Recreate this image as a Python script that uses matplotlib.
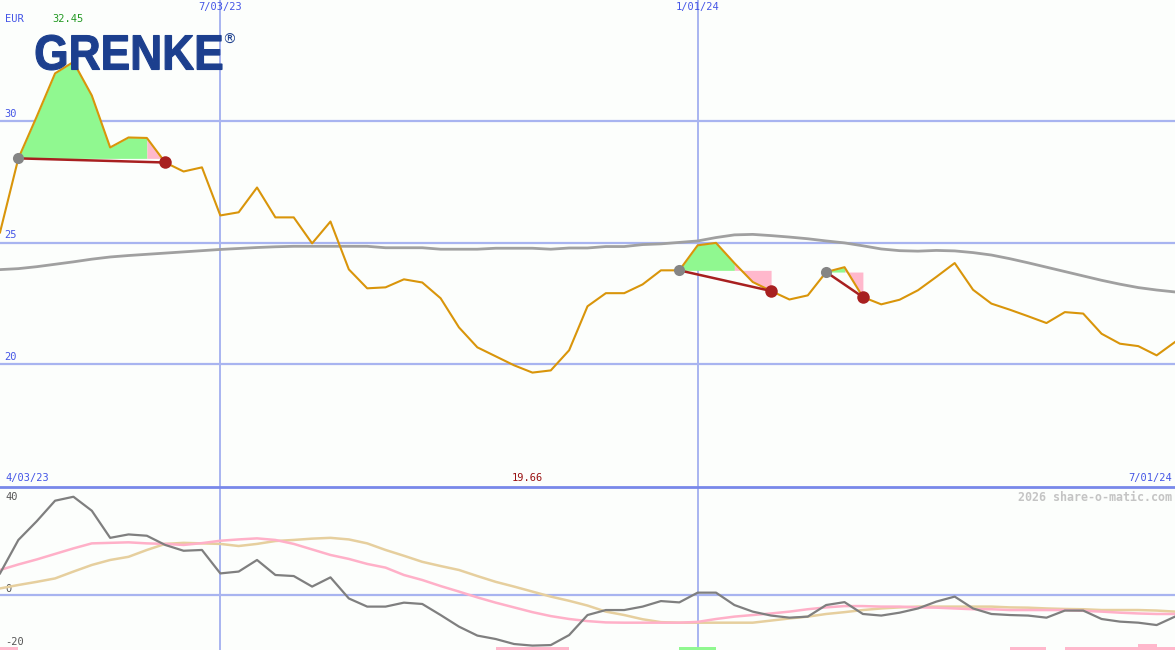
import matplotlib
matplotlib.use('Agg')
import matplotlib.pyplot as plt
import numpy as np
from matplotlib.textpath import TextPath
from matplotlib.font_manager import FontProperties
from matplotlib.patches import PathPatch
from matplotlib.transforms import Affine2D, IdentityTransform

# ---------------- data ----------------
date_labels_top = ["7/03/23", "1/01/24"]
date_idx_top = [12, 38]
start_label = "4/03/23"
end_label = "7/01/24"
currency = "EUR"
max_label = "32.45"
min_label = "19.66"

price = [25.43, 28.48, 30.20, 31.98, 32.45, 31.07, 28.93, 29.34, 29.32, 28.31,
         27.94, 28.11, 26.13, 26.26, 27.28, 26.05, 26.05, 24.98, 25.88, 23.91,
         23.13, 23.17, 23.50, 23.37, 22.72, 21.52, 20.70, 20.33, 19.96, 19.66,
         19.75, 20.58, 22.39, 22.93, 22.93, 23.29, 23.87, 23.87, 24.90, 25.00,
         24.17, 23.39, 23.02, 22.67, 22.84, 23.80, 24.00, 22.77, 22.47, 22.66,
         23.05, 23.60, 24.17, 23.07, 22.50, 22.25, 21.98, 21.70, 22.15, 22.09,
         21.26, 20.85, 20.75, 20.37, 20.92]

ma_long = [23.90, 23.94, 24.02, 24.12, 24.22, 24.33, 24.42, 24.48, 24.53, 24.58,
           24.63, 24.68, 24.73, 24.77, 24.81, 24.84, 24.86, 24.86, 24.86, 24.86,
           24.86, 24.80, 24.80, 24.80, 24.74, 24.74, 24.74, 24.78, 24.78, 24.78,
           24.74, 24.79, 24.79, 24.85, 24.85, 24.93, 24.96, 25.02, 25.08, 25.22,
           25.33, 25.35, 25.30, 25.24, 25.17, 25.08, 25.00, 24.88, 24.75, 24.68,
           24.66, 24.69, 24.67, 24.60, 24.50, 24.35, 24.18, 24.00, 23.82, 23.64,
           23.46, 23.30, 23.16, 23.06, 22.98]

osc_dark = [8.2, 20.9, 28.0, 35.8, 37.3, 32.0, 21.7, 23.0, 22.5, 19.0,
            16.8, 17.1, 8.2, 8.9, 13.3, 7.6, 7.2, 3.2, 6.7, -1.3,
            -4.4, -4.4, -2.9, -3.4, -7.6, -12.0, -15.4, -16.7, -18.6, -19.2,
            -19.0, -15.2, -7.6, -5.7, -5.7, -4.4, -2.3, -2.8, 0.9, 0.9,
            -3.8, -6.3, -7.8, -8.6, -8.2, -3.8, -2.7, -7.2, -7.8, -6.7,
            -5.1, -2.5, -0.6, -5.1, -7.2, -7.6, -7.8, -8.6, -5.9, -5.9,
            -9.1, -10.1, -10.5, -11.4, -8.2]

osc_pink = [9.5, 11.6, 13.5, 15.6, 17.7, 19.6, 19.8, 20.0, 19.6, 19.4,
            19.0, 19.7, 20.6, 21.1, 21.5, 20.9, 19.4, 17.3, 15.2, 13.7,
            11.8, 10.4, 7.6, 5.7, 3.4, 1.3, -0.9, -2.9, -4.7, -6.5,
            -8.0, -9.1, -9.9, -10.4, -10.5, -10.5, -10.5, -10.5, -10.2, -9.1,
            -8.2, -7.6, -7.0, -6.3, -5.4, -4.7, -4.2, -4.2, -4.4, -4.4,
            -4.7, -4.8, -5.1, -5.4, -5.4, -5.7, -5.7, -5.7, -5.7, -6.0,
            -6.3, -6.7, -7.0, -7.2, -7.2]

osc_tan = [2.5, 3.8, 5.0, 6.3, 8.9, 11.4, 13.3, 14.5, 17.1, 19.4,
           19.8, 19.6, 19.4, 18.6, 19.4, 20.5, 20.9, 21.4, 21.7, 21.1,
           19.6, 17.1, 14.9, 12.6, 11.0, 9.5, 7.2, 5.0, 3.2, 1.3,
           -0.6, -2.2, -4.0, -6.3, -7.6, -9.2, -10.3, -10.5, -10.5, -10.5,
           -10.5, -10.5, -9.7, -8.9, -8.2, -7.2, -6.5, -5.7, -5.1, -4.7,
           -4.4, -4.4, -4.4, -4.4, -4.4, -4.7, -4.8, -5.1, -5.3, -5.4,
           -5.7, -5.7, -5.7, -5.9, -6.3]

# trades: entry index, switch-to-pink index, exit index
trade_entry = [1, 37, 45]
trade_switch = [8, 40, 46]
trade_exit = [9, 42, 47]

# signal bars at the bottom of the oscillator panel
bar_idx = [0, 27, 28, 29, 30, 37, 38, 55, 56, 58, 59, 60, 61, 62, 63]
bar_top = [-19.9, -19.9, -19.9, -19.9, -19.9, -19.9, -19.9, -19.9, -19.9,
           -19.9, -19.9, -19.9, -19.9, -18.6, -19.9]
bar_kind = ["neg", "neg", "neg", "neg", "neg", "pos", "pos", "neg", "neg",
            "neg", "neg", "neg", "neg", "neg", "neg"]

top_grid = [30, 25, 20]
bot_grid = [0]
bot_labels = [40, 0, -20]

# ---------------- style ----------------
W, H = 1175, 650
BG = '#fcfefc'
GRID = '#a8b4f0'
SEP = '#7888ea'
BLUE_TXT = '#4455e6'
ORANGE = '#d9950a'
GRAYMA = '#a0a0a0'
GREEN_F = '#90f890'
PINK_F = '#ffb8cc'
REDL = '#a82020'
DOTGRAY = '#858585'
DOTRED = '#a82020'
MONO = 'DejaVu Sans Mono'
FS = 7.5

fig = plt.figure(figsize=(W / 100, H / 100), dpi=100, facecolor=BG)
split = 1 - 487 / H
ax = fig.add_axes([0, split, 1, 1 - split])
axb = fig.add_axes([0, 0, 1, split])
for a in (ax, axb):
    a.set_facecolor(BG)
    a.set_axis_off()
    a.set_xlim(0, len(price) - 1)

x = np.arange(len(price))
p = np.array(price)

# ---- top panel ----
ax.set_ylim(14.95, 35.0)
for g in top_grid:
    ax.axhline(g, color=GRID, lw=1.6, zorder=1)
    ax.text(0.004, g + 0.1, str(g), transform=ax.get_yaxis_transform(), color=BLUE_TXT,
            fontsize=FS, family=MONO, va='bottom', ha='left')
for i in date_idx_top:
    ax.axvline(i, color=GRID, lw=1.4, zorder=1)
    axb.axvline(i, color=GRID, lw=1.4, zorder=1)

ax.plot(x, ma_long, color=GRAYMA, lw=2.0, zorder=2)

for e, s, xo in zip(trade_entry, trade_switch, trade_exit):
    lvl = price[e]
    xs = x[e:s + 1]
    ax.fill_between(xs, lvl, p[e:s + 1], color=GREEN_F, lw=0, zorder=3, interpolate=True)
    xs2 = x[s:xo + 1]
    ax.fill_between(xs2, lvl, p[s:xo + 1], color=PINK_F, lw=0, zorder=3, interpolate=True)

ax.plot(x, price, color=ORANGE, lw=1.5, zorder=4)

for e, xo in zip(trade_entry, trade_exit):
    ax.plot([e, xo], [price[e], price[xo]], color=REDL, lw=1.8, zorder=5)
    ax.plot([e], [price[e]], 'o', ms=8, color=DOTGRAY, mec='none', zorder=6)
    ax.plot([xo], [price[xo]], 'o', ms=9, color=DOTRED, mec='none', zorder=6)

# labels in top panel
for lab, i in zip(date_labels_top, date_idx_top):
    ax.text(i, 1 - 2 / 487, lab, transform=ax.get_xaxis_transform(), color=BLUE_TXT,
            fontsize=FS, family=MONO, ha='center', va='top')
ax.text(5 / W, 1 - 14 / 487, currency, transform=ax.transAxes, color=BLUE_TXT,
        fontsize=FS, family=MONO, ha='left', va='top')
ax.text(52 / W, 1 - 14 / 487, max_label, transform=ax.transAxes, color='#229922',
        fontsize=FS, family=MONO, ha='left', va='top')
ax.text(5 / W, 4 / 487, start_label, transform=ax.transAxes, color=BLUE_TXT,
        fontsize=FS, family=MONO, ha='left', va='bottom')
ax.text(527 / W, 4 / 487, min_label, transform=ax.transAxes, color='#991111',
        fontsize=FS, family=MONO, ha='center', va='bottom')
ax.text(1 - 3 / W, 4 / 487, end_label, transform=ax.transAxes, color=BLUE_TXT,
        fontsize=FS, family=MONO, ha='right', va='bottom')

# ---- bottom panel ----
b_lo, b_hi = -20.87, 41.0
axb.set_ylim(b_lo, b_hi)
for g in bot_grid:
    axb.axhline(g, color=GRID, lw=1.6, zorder=1)
for v in bot_labels:
    yy = min(v, 35.0)
    axb.text(5 / W, yy + 0.4, str(v), transform=axb.get_yaxis_transform(), color='#555555',
             fontsize=FS, family=MONO, ha='left', va='bottom')
axb.axhline(b_hi, color=SEP, lw=2.0, zorder=7, clip_on=False)

cols = {"neg": PINK_F, "pos": GREEN_F}
axb.bar(bar_idx, [t - b_lo for t in bar_top], bottom=b_lo, width=1.0, align='edge',
        color=[cols[k] for k in bar_kind], lw=0, zorder=2)

axb.plot(x, osc_tan, color='#e6cf9e', lw=1.8, zorder=3)
axb.plot(x, osc_pink, color='#ffb0c8', lw=1.8, zorder=3)
axb.plot(x, osc_dark, color='#7f7f7f', lw=1.6, zorder=4)

axb.text(1 - 3 / W, 1 - 4 / 163, "2026 share-o-matic.com", transform=axb.transAxes,
         color='#c4c4c4', fontsize=8.4, family=MONO, weight='bold', ha='right', va='top')

# ---- logo ----
fp = FontProperties(family='Liberation Sans', weight='bold')
tp = TextPath((0, 0), "GRENKE", prop=fp, size=1)
ext = tp.get_extents()
lx0, lx1, ly_top, ly_bot = 36, 222, 35, 70
sx = (lx1 - lx0) / ext.width
sy = (ly_bot - ly_top) / ext.height
tr = Affine2D().translate(-ext.x0, -ext.y0).scale(sx, sy).translate(lx0, H - ly_bot)
patch = PathPatch(tr.transform_path(tp), facecolor='#1c3f8e', edgecolor='#1c3f8e',
                  lw=0.8, transform=IdentityTransform(), zorder=10)
fig.add_artist(patch)
fig.text(222 / W, 1 - 33 / H, "®", color='#1c3f8e', fontsize=10, ha='left', va='top',
         family='DejaVu Sans')

fig.savefig('out.png', dpi=100, facecolor=BG)
